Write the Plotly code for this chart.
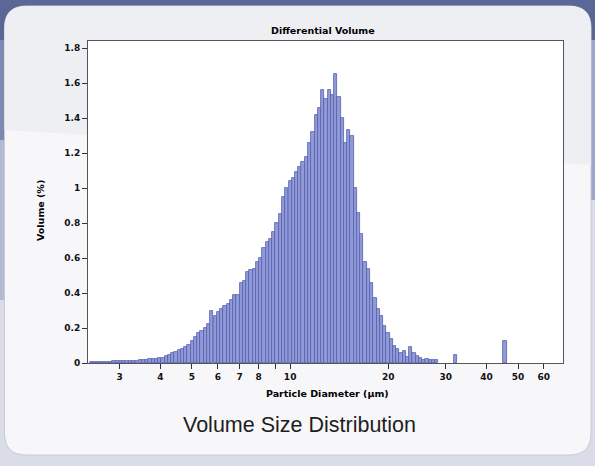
import plotly.graph_objects as go

# ---- data ----
diameter_um = [
    2.455, 2.512, 2.570, 2.630, 2.692, 2.754, 2.818, 2.884, 2.951, 3.020,
    3.090, 3.162, 3.236, 3.311, 3.388, 3.467, 3.548, 3.631, 3.715, 3.802,
    3.890, 3.981, 4.074, 4.169, 4.266, 4.365, 4.467, 4.571, 4.677, 4.786,
    4.898, 5.012, 5.129, 5.248, 5.370, 5.495, 5.623, 5.754, 5.888, 6.026,
    6.166, 6.310, 6.457, 6.607, 6.761, 6.918, 7.079, 7.244, 7.413, 7.586,
    7.762, 7.943, 8.128, 8.318, 8.511, 8.710, 8.913, 9.120, 9.333, 9.550,
    9.772, 10.00, 10.23, 10.47, 10.72, 10.96, 11.22, 11.48, 11.75, 12.02,
    12.30, 12.59, 12.88, 13.18, 13.49, 13.80, 14.13, 14.45, 14.79, 15.14,
    15.49, 15.85, 16.22, 16.60, 16.98, 17.38, 17.78, 18.20, 18.62, 19.05,
    19.50, 19.95, 20.42, 20.89, 21.38, 21.88, 22.39, 22.91, 23.44, 23.99,
    24.55, 25.12, 25.70, 26.30, 26.92, 27.54, 28.18, 32.10, 45.60,
]
volume_pct = [
    0.005, 0.006, 0.006, 0.007, 0.007, 0.008, 0.008, 0.009, 0.010, 0.010,
    0.011, 0.012, 0.012, 0.013, 0.014, 0.015, 0.016, 0.020, 0.021, 0.022,
    0.024, 0.027, 0.030, 0.038, 0.048, 0.055, 0.062, 0.072, 0.082, 0.092,
    0.105, 0.125, 0.150, 0.170, 0.185, 0.200, 0.225, 0.300, 0.270, 0.290,
    0.310, 0.325, 0.340, 0.360, 0.390, 0.390, 0.460, 0.470, 0.520, 0.530,
    0.540, 0.580, 0.600, 0.660, 0.690, 0.710, 0.750, 0.800, 0.850, 0.950,
    1.000, 1.040, 1.060, 1.090, 1.120, 1.150, 1.180, 1.260, 1.320, 1.420,
    1.460, 1.560, 1.510, 1.560, 1.530, 1.650, 1.520, 1.400, 1.260, 1.330,
    1.300, 1.000, 0.860, 0.740, 0.580, 0.540, 0.460, 0.370, 0.310, 0.270,
    0.210, 0.170, 0.140, 0.100, 0.080, 0.060, 0.070, 0.035, 0.090, 0.060,
    0.040, 0.030, 0.020, 0.025, 0.015, 0.020, 0.015, 0.045, 0.125,
]
x_tick_vals = [3, 4, 5, 6, 7, 8, 9, 10, 20, 30, 40, 50, 60]
x_tick_text = ["3", "4", "5", "6", "7", "8", "", "10", "20", "30", "40", "50", "60"]
y_tick_vals = [0, 0.2, 0.4, 0.6, 0.8, 1, 1.2, 1.4, 1.6, 1.8]

chart_title = "Differential Volume"
x_title = "Particle Diameter (µm)"
y_title = "Volume (%)"
caption = "Volume Size Distribution"

# ---- figure ----
W, H = 595, 466
L_PX, R_PX, T_PX, B_PX = 88, 563, 41, 363
pw, ph = R_PX - L_PX, B_PX - T_PX


def px(x):
    return (x - L_PX) / pw


def py(y):
    return (B_PX - y) / ph


bar_widths = [d * 0.0228 for d in diameter_um]

fig = go.Figure()
fig.add_trace(go.Bar(
    x=diameter_um, y=volume_pct, width=bar_widths,
    marker=dict(color="#929ad6", line=dict(color="#535db2", width=0.8)),
    showlegend=False, hoverinfo="skip",
))

FONT = "Liberation Sans, Arial, sans-serif"
DV = "DejaVu Sans, Verdana, sans-serif"
LABEL = dict(family=DV, size=9.5, color="#000", weight="bold")
TICK = dict(family=DV, size=9, color="#111", weight="bold")

# background: blue frame and rounded light panel
x0, x1 = px(4.5), px(591)
y0, y1 = py(455), py(6)
rx, ry = 22 / pw, 22 / ph
panel_path = (
    f"M {x0 + rx},{y1} L {x1 - rx},{y1} Q {x1},{y1} {x1},{y1 - ry} "
    f"L {x1},{y0 + ry} Q {x1},{y0} {x1 - rx},{y0} "
    f"L {x0 + rx},{y0} Q {x0},{y0} {x0},{y0 + ry} "
    f"L {x0},{y1 - ry} Q {x0},{y1} {x0 + rx},{y1} Z"
)
panel_top_path = (
    f"M {x0 + rx},{y1} L {x1 - rx},{y1} Q {x1},{y1} {x1},{y1 - ry} "
    f"L {x1},{py(165)} L {x0},{py(130)} "
    f"L {x0},{y1 - ry} Q {x0},{y1} {x0 + rx},{y1} Z"
)
shapes = [
    dict(type="rect", xref="paper", yref="paper", x0=px(0), x1=px(W), y0=py(0), y1=py(40),
         fillcolor="#5b6797", line_width=0, layer="below"),
    dict(type="rect", xref="paper", yref="paper", x0=px(0), x1=px(12), y0=py(40), y1=py(140),
         fillcolor="#7d88b4", line_width=0, layer="below"),
    dict(type="rect", xref="paper", yref="paper", x0=px(0), x1=px(12), y0=py(140), y1=py(300),
         fillcolor="#b4bad6", line_width=0, layer="below"),
    dict(type="rect", xref="paper", yref="paper", x0=px(580), x1=px(W), y0=py(40), y1=py(200),
         fillcolor="#9ea6c8", line_width=0, layer="below"),
    dict(type="path", xref="paper", yref="paper", path=panel_path,
         fillcolor="#f7f7f9", line=dict(color="#c8cad6", width=1), layer="below"),
    dict(type="path", xref="paper", yref="paper", path=panel_top_path,
         fillcolor="#eeeff3", line_width=0, layer="below"),
    dict(type="rect", xref="paper", yref="paper", x0=0, x1=1, y0=0, y1=1,
         fillcolor="#ffffff", line_width=0, layer="below"),
]

annotations = [
    dict(text=chart_title, xref="paper", yref="paper", x=px(323), y=py(30),
         xanchor="center", yanchor="middle", showarrow=False, font=LABEL),
    dict(text=x_title, xref="paper", yref="paper", x=px(327), y=py(393),
         xanchor="center", yanchor="middle", showarrow=False, font=LABEL),
    dict(text=y_title, xref="paper", yref="paper", x=px(40), y=py(211),
         xanchor="center", yanchor="middle", textangle=-90, showarrow=False, font=LABEL),
    dict(text=caption, xref="paper", yref="paper", x=px(299), y=py(425),
         xanchor="center", yanchor="middle", showarrow=False,
         font=dict(family=FONT, size=21.5, color="#1e1e1e", weight="normal")),
]

fig.update_layout(
    width=W, height=H,
    margin=dict(l=L_PX, r=W - R_PX, t=T_PX, b=H - B_PX, pad=0),
    paper_bgcolor="#dadce8", plot_bgcolor="#ffffff",
    bargap=0, shapes=shapes, annotations=annotations,
    font=TICK, hovermode=False,
    xaxis=dict(type="log", range=[0.38, 1.837], tickvals=x_tick_vals, ticktext=x_tick_text,
               ticks="outside", ticklen=5, tickcolor="#333", showline=True, linecolor="#555",
               linewidth=1, mirror=True, showgrid=False, zeroline=False, tickfont=TICK),
    yaxis=dict(range=[0, 1.84], tickvals=y_tick_vals, ticks="outside", ticklen=5,
               tickcolor="#333", showline=True, linecolor="#555", linewidth=1, mirror=True,
               showgrid=False, zeroline=False, tickfont=TICK),
)

fig.write_html("out.html", config={"displayModeBar": False},
               post_script="document.body.style.margin='0';")
